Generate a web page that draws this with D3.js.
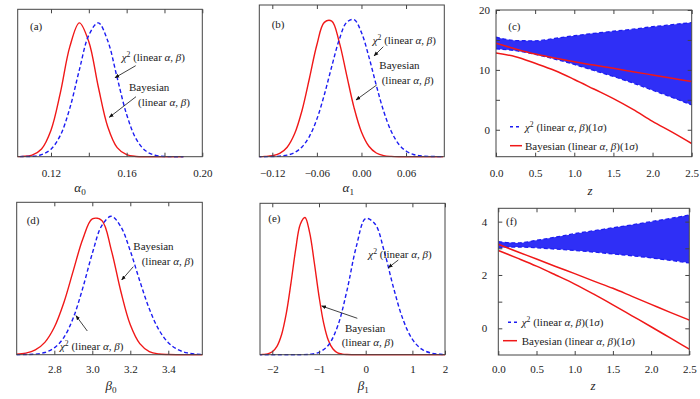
<!DOCTYPE html>
<html>
<head>
<meta charset="utf-8">
<script src="https://cdn.jsdelivr.net/npm/d3@7"></script>
<style>
  body { margin: 0; background: #fff; }
  svg { font-family: "Liberation Serif", "DejaVu Serif", serif; font-size: 11px; }
  .frame { fill: none; stroke: #444; stroke-width: 1; }
  .tick line { stroke: #444; }
  .domain { display: none; }
</style>
</head>
<body>
<div id="chart"></div>
<script>
// ---- data (densities normalised to peak 1) ----
const alpha0Grid  = [0.100,0.105,0.110,0.115,0.120,0.125,0.130,0.135,0.140,0.145,0.150,0.155,0.160,0.165,0.170,0.175,0.180,0.185,0.190];
const alpha0Bayes = [0,0.002,0.012,0.058,0.198,0.480,0.823,0.999,0.858,0.522,0.224,0.068,0.015,0.002,0,0,0,0,0];
const alpha0Chi2  = [0,0.001,0.003,0.015,0.056,0.161,0.364,0.648,0.907,0.999,0.865,0.589,0.315,0.133,0.044,0.011,0.002,0,0];

const alpha1Grid  = [-0.14,-0.13,-0.12,-0.11,-0.10,-0.09,-0.08,-0.07,-0.06,-0.05,-0.04,-0.03,-0.02,-0.01,0.00,0.01,0.02,0.03,0.04,0.05,0.06,0.07,0.08,0.09,0.10,0.11];
const alpha1Bayes = [0,0.002,0.007,0.024,0.069,0.166,0.335,0.569,0.812,0.974,0.983,0.833,0.594,0.356,0.179,0.076,0.027,0.008,0.002,0,0,0,0,0,0,0];
const alpha1Chi2  = [0,0,0.001,0.004,0.011,0.030,0.071,0.148,0.273,0.449,0.654,0.847,0.974,0.994,0.900,0.724,0.517,0.328,0.185,0.092,0.041,0.016,0.006,0.002,0.001,0];

const beta0Grid  = [2.60,2.65,2.70,2.75,2.80,2.85,2.90,2.95,3.00,3.05,3.10,3.15,3.20,3.25,3.30,3.35,3.40,3.45,3.50,3.55,3.60];
const beta0Bayes = [0.003,0.011,0.034,0.089,0.198,0.375,0.607,0.835,0.980,0.969,0.755,0.458,0.216,0.080,0.023,0.005,0.001,0,0,0,0];
const beta0Chi2  = [0,0.001,0.004,0.016,0.049,0.124,0.267,0.482,0.731,0.932,0.999,0.924,0.749,0.532,0.332,0.181,0.087,0.037,0.013,0.004,0.001];

const beta1BayesGrid = [-2.3,-2.2,-2.1,-2.0,-1.9,-1.8,-1.7,-1.6,-1.5,-1.4,-1.3,-1.2,-1.1,-1.0,-0.9,-0.8,-0.7,-0.6,-0.5,-0.4,-0.3,1.8];
const beta1Bayes     = [0.0003,0.002,0.006,0.021,0.061,0.147,0.300,0.520,0.763,0.948,0.997,0.887,0.668,0.426,0.230,0.105,0.041,0.013,0.004,0.001,0,0];
const beta1Chi2Grid  = [-2.3,-1.6,-1.4,-1.2,-1.0,-0.8,-0.6,-0.4,-0.2,0.0,0.2,0.4,0.6,0.8,1.0,1.2,1.4,1.6,1.8];
const beta1Chi2      = [0,0,0,0.003,0.017,0.069,0.208,0.468,0.787,0.989,0.950,0.747,0.481,0.255,0.111,0.040,0.012,0.003,0.0005];

const zGrid = [0,0.25,0.5,0.75,1.0,1.25,1.5,1.75,2.0,2.25,2.5];
const cChi2Upper  = [15.45,14.9,14.85,15.25,15.7,16.1,16.45,16.8,17.2,17.55,17.9];
const cChi2Lower  = [13.5,13.2,12.6,11.8,10.9,9.9,8.9,7.8,6.6,5.4,4.15];
const cBayesUpper = [14.45,13.5,12.65,12.0,11.35,10.8,10.26,9.7,9.15,8.6,8.05];
const cBayesLower = [12.8,12.2,11.1,9.9,8.4,6.8,5.2,3.4,1.4,-0.4,-2.3];
const fChi2Upper  = [3.25,3.2,3.3,3.42,3.55,3.66,3.77,3.88,4.0,4.12,4.25];
const fChi2Lower  = [3.02,3.05,3.02,2.97,2.92,2.86,2.79,2.72,2.64,2.55,2.45];
const fBayesUpper = [3.15,2.87,2.6,2.32,2.05,1.77,1.5,1.2,0.9,0.6,0.31];
const fBayesLower = [2.92,2.63,2.33,2.0,1.66,1.28,0.88,0.47,0.06,-0.36,-0.78];

const RED = '#f01818', BLUE = '#1c1cf2', BAND = '#2f2ff6';
const FONT = '"Liberation Serif", "DejaVu Serif", serif';
const DASH = '4,2.5';

const svg = d3.select('#chart').append('svg').attr('width', 700).attr('height', 399);
const defs = svg.append('defs');
defs.append('marker').attr('id', 'arrow').attr('viewBox', '0 0 10 10')
    .attr('refX', 9).attr('refY', 5).attr('markerWidth', 6).attr('markerHeight', 6)
    .attr('orient', 'auto')
  .append('path').attr('d', 'M0,1 L10,5 L0,9 z').attr('fill', '#111');

// rich text: parts = [text, style] with style '', 'i', 'sup', 'sub'
function richText(g, x, y, parts, size, anchor) {
  const t = g.append('text').attr('x', x).attr('y', y).attr('font-size', size || 11)
      .attr('text-anchor', anchor || 'start').attr('fill', '#222');
  let shift = 0;
  parts.forEach(([s, st]) => {
    const sp = t.append('tspan').text(s);
    let want = 0;
    if (st === 'i') sp.attr('font-style', 'italic');
    if (st === 'sup') { sp.attr('font-size', (size || 11) * 0.7); want = -4; }
    if (st === 'sub') { sp.attr('font-size', (size || 11) * 0.7); want = 3; }
    if (want !== shift) { sp.attr('dy', want - shift); shift = want; }
  });
  return t;
}
const chiLabel = [['χ','i'],['2','sup'],[' (linear ',''],['α','i'],[', ',''],['β','i'],[')','']];
const linLabel = [['(linear ',''],['α','i'],[', ',''],['β','i'],[')','']];

function styleAxis(sel) {
  sel.attr('font-family', FONT).attr('font-size', 11);
  sel.selectAll('.tick text').attr('fill', '#222');
}

function frameAndAxes(g, p, x, y) {
  g.append('g').attr('transform', `translate(0,${p.bottom})`)
    .call(d3.axisBottom(x).tickValues(p.ticks).tickSize(-4).tickPadding(p.pad)
      .tickFormat((d, i) => p.labels[i])).call(styleAxis);
  g.append('g').attr('transform', `translate(0,${p.top})`)
    .call(d3.axisTop(x).tickValues(p.ticks).tickSize(-4).tickFormat('')).call(styleAxis);
  if (p.yTicks) {
    g.append('g').attr('transform', `translate(${p.left},0)`)
      .call(d3.axisLeft(y).tickValues(p.yTicks).tickSize(-4).tickPadding(p.yPad)
        .tickFormat((d, i) => p.yLabels[i])).call(styleAxis);
    g.append('g').attr('transform', `translate(${p.right},0)`)
      .call(d3.axisRight(y).tickValues(p.yTicks).tickSize(-4).tickFormat('')).call(styleAxis);
  }
  g.append('rect').attr('class', 'frame')
    .attr('x', p.left).attr('y', p.top).attr('width', p.right - p.left).attr('height', p.bottom - p.top);
  g.append('text').attr('x', p.letterPos[0]).attr('y', p.letterPos[1]).attr('font-size', 11)
    .attr('fill', '#222').text(p.letter);
  richText(g, p.titlePos[0], p.titlePos[1], p.title, 13, 'middle');
}

function clipFor(p) {
  const id = 'clip' + p.letter.replace(/[()]/g, '');
  defs.append('clipPath').attr('id', id).append('rect')
    .attr('x', p.left).attr('y', p.top).attr('width', p.right - p.left).attr('height', p.bottom - p.top + 1);
  return `url(#${id})`;
}

function densityPanel(p) {
  const x = d3.scaleLinear().domain(p.domain).range([p.left, p.right]);
  const y = d3.scaleLinear().domain([0, 1.1]).range([p.bottom, p.top]);
  const g = svg.append('g');
  const clip = clipFor(p);
  const line = d3.line().x(d => x(d[0])).y(d => y(d[1])).curve(d3.curveCatmullRom.alpha(0.5));

  p.curves.forEach(c => {
    g.append('path').datum(d3.zip(c.xs, c.ys)).attr('clip-path', clip)
      .attr('d', line).attr('fill', 'none').attr('stroke', c.color).attr('stroke-width', 1.4)
      .attr('stroke-dasharray', c.dash || null);
  });
  frameAndAxes(g, p, x, y);

  p.notes.forEach(n => {
    n.lines.forEach((l, i) => richText(g, n.at[i][0], n.at[i][1], l, 11));
    g.append('line').attr('x1', n.arrow[0]).attr('y1', n.arrow[1]).attr('x2', n.arrow[2]).attr('y2', n.arrow[3])
      .attr('stroke', '#111').attr('stroke-width', 0.8).attr('marker-end', 'url(#arrow)');
  });
}

function bandPanel(p) {
  const x = d3.scaleLinear().domain([0, 2.5]).range([p.left, p.right]);
  const y = d3.scaleLinear().domain(p.yDomain).range([p.bottom, p.top]);
  const g = svg.append('g');
  const clip = clipFor(p);
  const band = zGrid.map((z, i) => ({ z, lo: p.chiLo[i], hi: p.chiHi[i] }));

  g.append('path').datum(band).attr('clip-path', clip)
    .attr('d', d3.area().x(d => x(d.z)).y0(d => y(d.lo)).y1(d => y(d.hi)).curve(d3.curveMonotoneX))
    .attr('fill', BAND);
  const line = d3.line().x(d => x(d[0])).y(d => y(d[1])).curve(d3.curveMonotoneX);
  [p.chiLo, p.chiHi].forEach(arr => {
    g.append('path').datum(d3.zip(zGrid, arr)).attr('clip-path', clip).attr('d', line)
      .attr('fill', 'none').attr('stroke', BLUE).attr('stroke-width', 1.3).attr('stroke-dasharray', DASH);
  });
  [p.bayLo, p.bayHi].forEach(arr => {
    g.append('path').datum(d3.zip(zGrid, arr)).attr('clip-path', clip).attr('d', line)
      .attr('fill', 'none').attr('stroke', RED).attr('stroke-width', 1.5);
  });
  frameAndAxes(g, p, x, y);

  // legend
  const L = p.legend;
  g.append('line').attr('x1', L.blue[0]).attr('x2', L.blue[1]).attr('y1', L.y[0]).attr('y2', L.y[0])
    .attr('stroke', BLUE).attr('stroke-width', 1.5).attr('stroke-dasharray', '3,3');
  g.append('line').attr('x1', L.red[0]).attr('x2', L.red[1]).attr('y1', L.y[1]).attr('y2', L.y[1])
    .attr('stroke', RED).attr('stroke-width', 1.5);
  richText(g, L.tx, L.y[0] + 4, chiLabel.concat([['(1',''],['σ','i'],[')','']]), 11);
  richText(g, L.tx, L.y[1] + 4, [['Bayesian ','']].concat(linLabel, [['(1',''],['σ','i'],[')','']]), 11);
}

densityPanel({
  letter: '(a)', letterPos: [30, 30], left: 17.7, right: 202.3, top: 9.3, bottom: 156.7,
  domain: [0.1024, 0.2], ticks: [0.12, 0.14, 0.16, 0.18, 0.20], labels: ['0.12', '', '0.16', '', '0.20'], pad: 13,
  title: [['α','i'],['0','sub']], titlePos: [80, 192],
  curves: [{ xs: alpha0Grid, ys: alpha0Bayes, color: RED }, { xs: alpha0Grid, ys: alpha0Chi2, color: BLUE, dash: DASH }],
  notes: [
    { lines: [chiLabel], at: [[121.7, 61]], arrow: [135.7, 65.7, 115, 77.7] },
    { lines: [[['Bayesian','']], linLabel], at: [[129, 91], [138, 105.5]], arrow: [136, 96.7, 109.3, 117.3] }
  ]
});

densityPanel({
  letter: '(b)', letterPos: [271.7, 28], left: 259.3, right: 444.3, top: 5, bottom: 156.7,
  domain: [-0.1375, 0.1115], ticks: [-0.12, -0.06, 0, 0.06], labels: ['−0.12', '−0.06', '0.00', '0.06'], pad: 13,
  title: [['α','i'],['1','sub']], titlePos: [348.3, 192],
  curves: [{ xs: alpha1Grid, ys: alpha1Bayes, color: RED }, { xs: alpha1Grid, ys: alpha1Chi2, color: BLUE, dash: DASH }],
  notes: [
    { lines: [chiLabel], at: [[372.7, 44]], arrow: [383.3, 46.7, 374, 56] },
    { lines: [[['Bayesian','']], linLabel], at: [[379.3, 69], [381.7, 84]], arrow: [376.7, 85, 356, 100] }
  ]
});

densityPanel({
  letter: '(d)', letterPos: [26.7, 224], left: 16.7, right: 202.3, top: 202.3, bottom: 354.7,
  domain: [2.602, 3.579], ticks: [2.8, 3.0, 3.2, 3.4], labels: ['2.8', '3.0', '3.2', '3.4'], pad: 11,
  title: [['β','i'],['0','sub']], titlePos: [111, 390],
  curves: [{ xs: beta0Grid, ys: beta0Bayes, color: RED }, { xs: beta0Grid, ys: beta0Chi2, color: BLUE, dash: DASH }],
  notes: [
    { lines: [[['Bayesian','']], linLabel], at: [[133.3, 249.5], [141.7, 265]], arrow: [133.3, 266.7, 121.7, 280] },
    { lines: [chiLabel], at: [[60, 349.5]], arrow: [87.3, 331, 76, 315.7] }
  ]
});

// the original figure prints its last label "2" on the right border
densityPanel({
  letter: '(e)', letterPos: [268.3, 221.5], left: 260, right: 445, top: 203.3, bottom: 354.7,
  domain: [-2.263, 1.698], ticks: [-2, -1, 0, 1, 1.698], labels: ['−2', '−1', '0', '1', '2'], pad: 11,
  title: [['β','i'],['1','sub']], titlePos: [363.3, 390],
  curves: [{ xs: beta1BayesGrid, ys: beta1Bayes, color: RED }, { xs: beta1Chi2Grid, ys: beta1Chi2, color: BLUE, dash: DASH }],
  notes: [
    { lines: [chiLabel], at: [[368.3, 258]], arrow: [398.3, 260, 388.3, 267.7] },
    { lines: [[['Bayesian','']], linLabel], at: [[345, 332], [341.7, 345.5]], arrow: [357.3, 318.3, 321.7, 306] }
  ]
});

bandPanel({
  letter: '(c)', letterPos: [508.3, 29.5], left: 496, right: 691.7, top: 10, bottom: 156.7,
  yDomain: [-4.5, 20], ticks: [0, 0.5, 1, 1.5, 2, 2.5], labels: ['0.0', '0.5', '1.0', '1.5', '2.0', '2.5'], pad: 13,
  yTicks: [0, 5, 10, 15, 20], yLabels: ['0', '', '10', '', '20'], yPad: 6,
  title: [['z','i']], titlePos: [590, 195],
  chiLo: cChi2Lower, chiHi: cChi2Upper, bayLo: cBayesLower, bayHi: cBayesUpper,
  legend: { blue: [510, 520], red: [510, 522], y: [126.7, 145.7], tx: 525 }
});

bandPanel({
  letter: '(f)', letterPos: [506, 225], left: 498.3, right: 689.3, top: 208.3, bottom: 355,
  yDomain: [-1, 4.5], ticks: [0, 0.5, 1, 1.5, 2, 2.5], labels: ['0.0', '0.5', '1.0', '1.5', '2.0', '2.5'], pad: 10,
  yTicks: [0, 1, 2, 3, 4], yLabels: ['0', '', '2', '', '4'], yPad: 11,
  title: [['z','i']], titlePos: [593, 390],
  chiLo: fChi2Lower, chiHi: fChi2Upper, bayLo: fBayesLower, bayHi: fBayesUpper,
  legend: { blue: [508, 518], red: [503, 517], y: [322.3, 340.7], tx: 521.7 }
});
</script>
</body>
</html>
